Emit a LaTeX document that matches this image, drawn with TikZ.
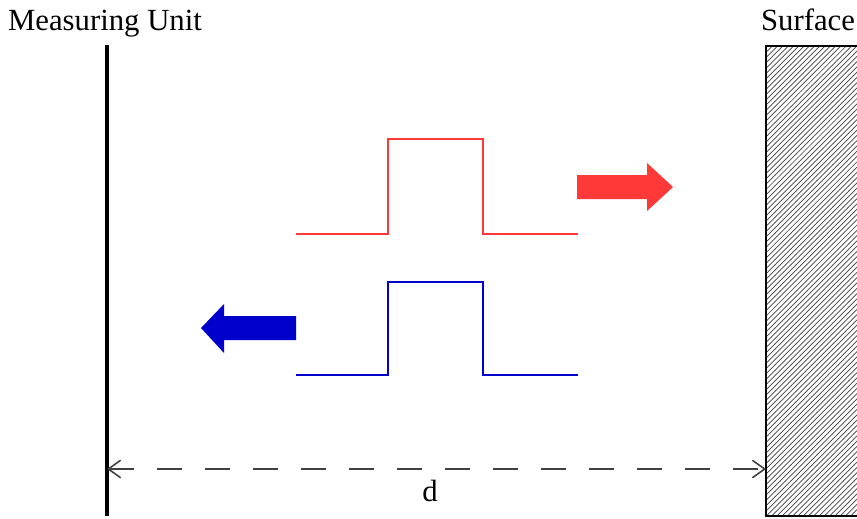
\documentclass[tikz,border=0pt]{standalone}
\usepackage{fontspec}
\setmainfont{Liberation Serif}
\usetikzlibrary{arrows.meta,patterns}

\definecolor{pulsered}{HTML}{FF3838}
\definecolor{pulseblue}{HTML}{0000CC}
\definecolor{dimgray}{HTML}{404040}

\begin{document}
\begin{tikzpicture}[x=0.02cm, y=-0.02cm,
    label/.style={font=\fontsize{17.5}{20}\selectfont, inner sep=0pt, anchor=base},
    pulse/.style={line width=1.3pt, line join=miter},
    block/.style={draw=none}]
    \useasboundingbox (0,0) rectangle (857,518);
    % measuring unit
    \coordinate (mtop) at (107,45);
    \coordinate (mbot) at (107,516);
    \draw[line width=2pt] (mtop) -- (mbot);
    \node[label] (unit) at (105,30) {Measuring Unit};
    % surface
    \node[label] (surf) at (808,30) {Surface};
    \draw[line width=0.9pt, pattern=north east lines, pattern color=dimgray]
      (766,46) coordinate (stop) rectangle (862,516);
    % pulses
    \draw[pulse, pulsered] (296,234) -- (388,234) -- (388,139) -- (483,139) -- (483,234) -- (578,234);
    \draw[pulse, pulseblue] (296,375) -- (388,375) -- (388,282) -- (483,282) -- (483,375) -- (578,375);
    % direction arrows
    \fill[block, pulsered] (577,175) -- (647,175) -- (647,163) -- (673,187)
      -- (647,211) -- (647,199) -- (577,199) -- cycle;
    \fill[block, pulseblue] (296,316) -- (224,316) -- (224,304) -- (201,328)
      -- (224,353) -- (224,340) -- (296,340) -- cycle;
    % distance
    \coordinate (dleft) at (107,469);
    \coordinate (dright) at (766,469);
    \draw[dimgray, line width=0.9pt, dash pattern=on 0.5cm off 0.46cm,
          {Straight Barb[length=7pt,width=10pt]}-{Straight Barb[length=7pt,width=10pt]}]
      (dleft) -- (dright);
    \node[label] (dist) at (430,501) {d};
\end{tikzpicture}
\end{document}
